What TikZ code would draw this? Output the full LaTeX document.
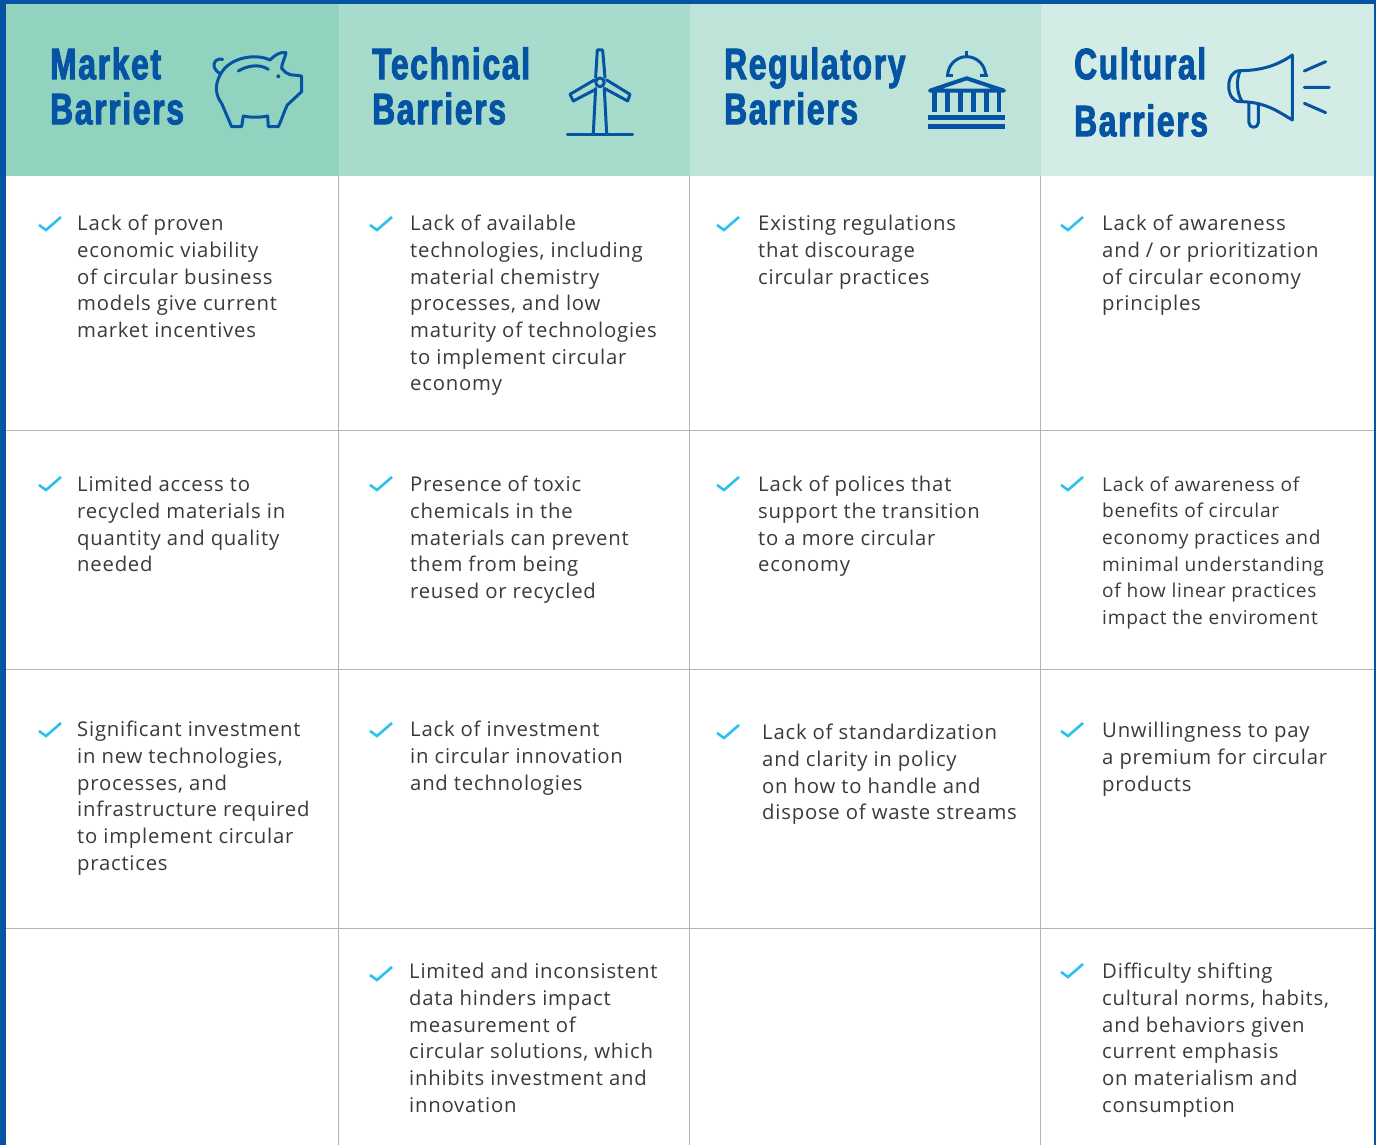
\documentclass[tikz,border=0pt]{standalone}
\usepackage{fontspec}
\setmainfont{Open Sans}
\newfontfamily\bodyf[LetterSpace=3.8]{Open Sans}
\newfontfamily\bodysf[LetterSpace=3.8]{Open Sans}
\newfontfamily\ttlf[FakeStretch=0.72,FakeBold=2.2,LetterSpace=4]{Liberation Sans Bold}
\definecolor{blu}{HTML}{0553A3}
\definecolor{hA}{HTML}{92D3C0}
\definecolor{hB}{HTML}{A7DCCD}
\definecolor{hC}{HTML}{BEE4DA}
\definecolor{hD}{HTML}{D3ECE6}
\definecolor{chk}{HTML}{2CC0EF}
\definecolor{txt}{HTML}{3A3A3C}
\definecolor{grid}{HTML}{B4B4B4}
\newcommand{\fl}{\rule{0pt}{16pt}}
\newcommand{\tl}{\rule{0pt}{40pt}}
\tikzset{
  cell/.style={anchor=north west,inner sep=0pt,align=left,text=txt,font=\bodyf\fontsize{20.3}{26.7}\selectfont},
  cellsmall/.style={cell,font=\bodysf\fontsize{19.1}{26.6}\selectfont},
  title/.style={anchor=north west,inner sep=0pt,align=left,text=blu,font=\ttlf\fontsize{44}{45}\selectfont},
  icon/.style={draw=blu,line width=3pt,line cap=round,line join=round},
  gridline/.style={draw=grid,line width=0.9pt},
  pics/chk/.style={code={\draw[chk,line width=2.6pt,line join=miter] (-11,1) -- (-4,6) -- (11,-7);}},
}
\begin{document}
\begin{tikzpicture}[x=1pt,y=-1pt]
\useasboundingbox (0,0) rectangle (1376,1145);
\fill[white] (0,0) rectangle (1376,1145);
% header
\fill[hA] (6,4) rectangle (339,176);
\fill[hB] (339,4) rectangle (690,176);
\fill[hC] (690,4) rectangle (1041,176);
\fill[hD] (1041,4) rectangle (1374,176);
% grid
\foreach \x in {338.5,689.5,1040.5} \draw[gridline] (\x,176) -- (\x,1145);
\foreach \y in {430.5,669.5,928.5} \draw[gridline] (6,\y) -- (1374,\y);
% frame
\fill[blu] (0,0) rectangle (1376,4);
\fill[blu] (0,0) rectangle (6,1145);
\fill[blu] (1374,0) rectangle (1376,1145);
% titles
\node[title] (tA) at (50,39) {\tl Market\\Barriers};
\node[title] (tB) at (372,39) {\tl Technical\\Barriers};
\node[title] (tC) at (724,39) {\tl Regulatory\\Barriers};
\node[title,font=\ttlf\fontsize{44}{57}\selectfont] (tD) at (1074,39) {\tl Cultural\\Barriers};
% piggy
\begin{scope}[x=0.3333pt,y=-0.3333pt]
\draw[icon] (668,178) .. controls (640,172) and (630,205) .. (662,222)
  .. controls (690,170) and (770,160) .. (810,180)
  .. controls (825,165) and (840,155) .. (858,158)
  .. controls (855,175) and (845,190) .. (845,205)
  .. controls (855,215) and (860,222) .. (870,224) -- (905,228) -- (905,275) -- (862,315)
  .. controls (850,340) and (845,360) .. (835,380) -- (805,380) -- (803,348)
  .. controls (780,353) and (750,353) .. (730,348) -- (725,380) -- (695,380) -- (665,310)
  .. controls (650,290) and (640,260) .. (662,222);
\draw[icon] (715,213) .. controls (745,195) and (780,192) .. (805,208);
\fill[blu] (835,229) circle (6);
\end{scope}
% turbine
\begin{scope}[shift={(345,0)},x=0.3333pt,y=-0.3333pt]
\draw[icon] (745,400) -- (752,265) (785,400) -- (778,265);
\draw[icon] (765,247) circle (13);
\draw[icon] (752,232) -- (757,150) -- (773,150) -- (780,232);
\draw[icon] (785,240) -- (855,283) -- (848,303) -- (778,265);
\draw[icon] (748,240) -- (675,283) -- (685,303) -- (752,268);
\draw[icon] (667,403) -- (863,403);
\end{scope}
% capitol
\begin{scope}[shift={(690,0)},x=0.3333pt,y=-0.3333pt]
\draw[icon,line cap=butt] (773,228) arc[start angle=180,end angle=0,x radius=57,y radius=-58];
\draw[icon,line cap=butt] (767,228) -- (790,228) (870,228) -- (893,228) (830,154) -- (830,170);
\draw[icon,line width=4pt] (720,272) -- (830,235) -- (942,272) -- cycle;
\foreach \c in {733,772,811,850,889,927} \fill[blu] (\c-7,275) rectangle (\c+7,335);
\fill[blu] (714,345) rectangle (945,360);
\fill[blu] (714,372) rectangle (945,387);
\end{scope}
% megaphone
\begin{scope}[shift={(1035,0)},x=0.3333pt,y=-0.3333pt]
\draw[icon] (772,165) -- (772,360) .. controls (730,335) and (690,305) .. (615,305)
  .. controls (570,305) and (570,212) .. (615,212) .. controls (680,212) and (730,195) .. (772,165) -- cycle;
\draw[icon] (615,214) .. controls (603,240) and (605,280) .. (622,305);
\draw[icon] (642,310) -- (642,368) arc[start angle=180,end angle=0,x radius=14,y radius=14] -- (670,312);
\draw[icon] (808,213) -- (872,185) (808,262) -- (883,262) (808,310) -- (872,338);
\end{scope}
% checks
\foreach \x/\y in {50/224,50/484,50/730,
  381/224,381/484,381/730,381/974,
  728/224,728/484,728/732,
  1072/224,1072/484,1072/730,1072/971}
  \pic at (\x,\y) {chk};
% cells
\node[cell] (a1) at (77,214.5) {\fl Lack of proven\\economic viability\\of circular business\\models give current\\market incentives};
\node[cell] (a2) at (77,475.5) {\fl Limited access to\\recycled materials in\\quantity and quality\\needed};
\node[cell] (a3) at (77,720.5) {\fl Significant investment\\in new technologies,\\processes, and\\infrastructure required\\to implement circular\\practices};
\node[cell] (b1) at (410,214.5) {\fl Lack of available\\technologies, including\\material chemistry\\processes, and low\\maturity of technologies\\to implement circular\\economy};
\node[cell] (b2) at (410,475.5) {\fl Presence of toxic\\chemicals in the\\materials can prevent\\them from being\\reused or recycled};
\node[cell] (b3) at (410,720.5) {\fl Lack of investment\\in circular innovation\\and technologies};
\node[cell] (b4) at (409,962.5) {\fl Limited and inconsistent\\data hinders impact\\measurement of\\circular solutions, which\\inhibits investment and\\innovation};
\node[cell] (c1) at (758,214.5) {\fl Existing regulations\\that discourage\\circular practices};
\node[cell] (c2) at (758,475.5) {\fl Lack of polices that\\support the transition\\to a more circular\\economy};
\node[cell] (c3) at (762,723.5) {\fl Lack of standardization\\and clarity in policy\\on how to handle and\\dispose of waste streams};
\node[cell] (d1) at (1102,214.5) {\fl Lack of awareness\\and / or prioritization\\of circular economy\\principles};
\node[cellsmall] (d2) at (1102,475) {\fl Lack of awareness of\\benefits of circular\\economy practices and\\minimal understanding\\of how linear practices\\impact the enviroment};
\node[cell] (d3) at (1102,721.5) {\fl Unwillingness to pay\\a premium for circular\\products};
\node[cell] (d4) at (1102,962.5) {\fl Difficulty shifting\\cultural norms, habits,\\and behaviors given\\current emphasis\\on materialism and\\consumption};
\end{tikzpicture}
\end{document}
